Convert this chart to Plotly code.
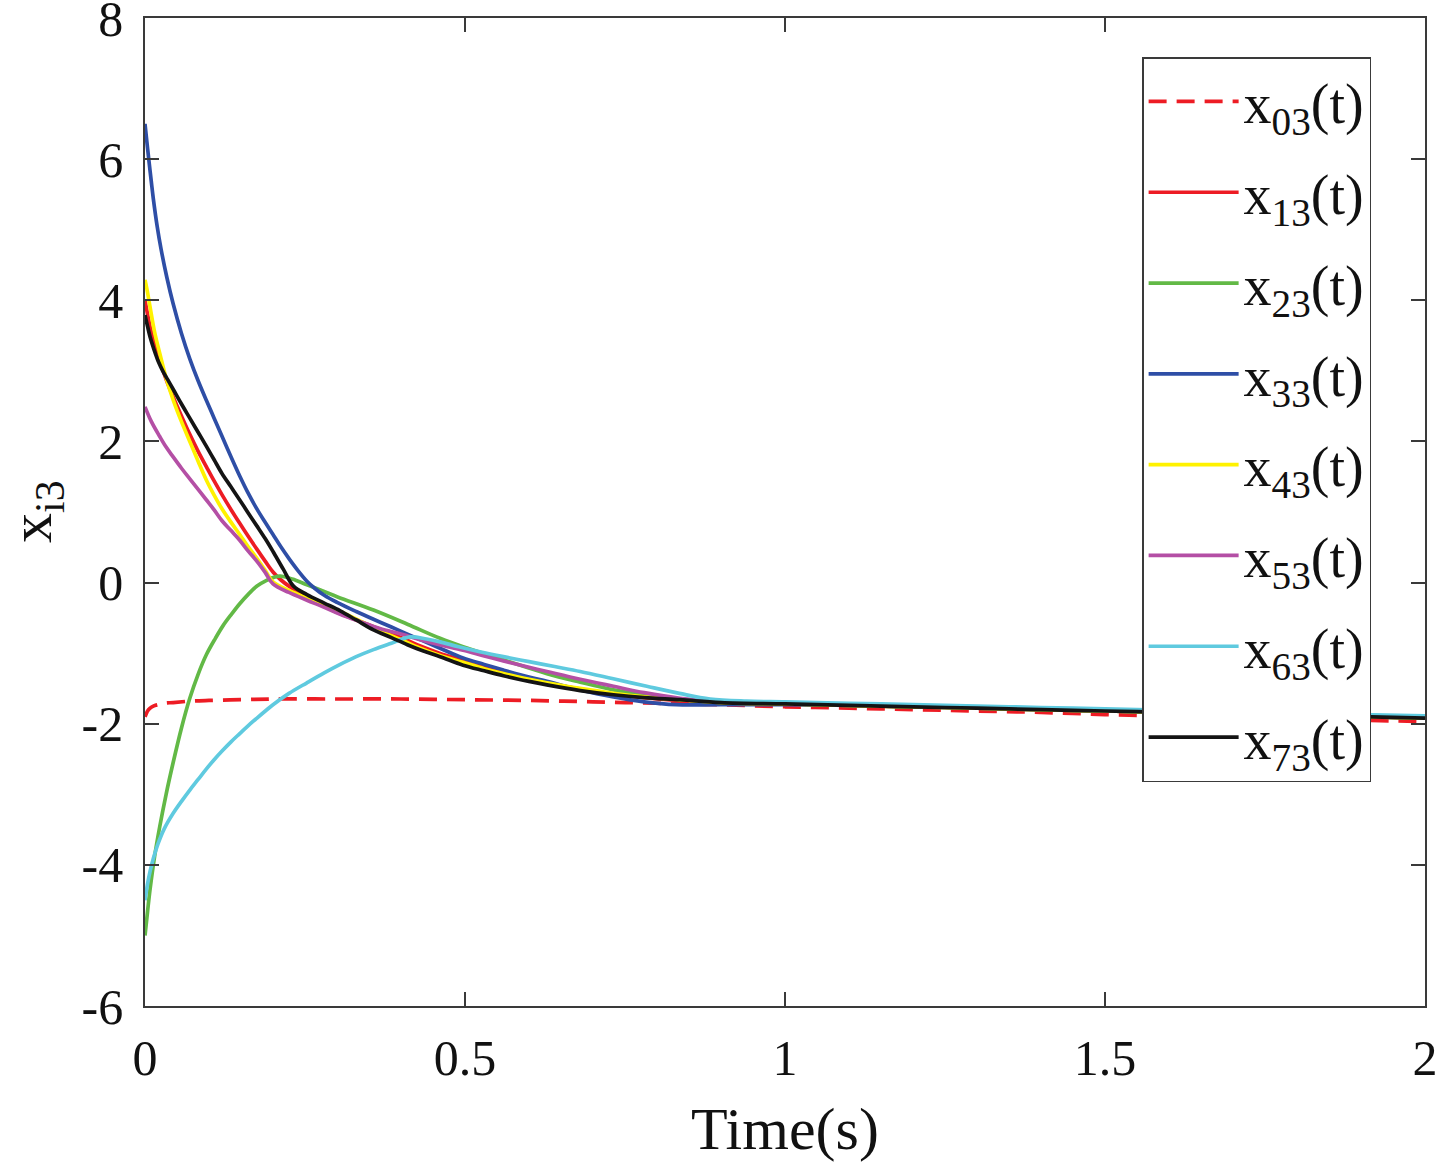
import plotly.graph_objects as go

# ---------------- data ----------------
t03 = [0, 0.002, 0.004, 0.008, 0.013, 0.02, 0.03, 0.044, 0.07, 0.1, 0.15, 0.2, 0.3, 0.4, 0.5, 0.6, 0.7, 0.8, 0.9,
       1.0, 1.1, 1.2, 1.3, 1.4, 1.5, 1.6, 1.7, 1.8, 1.9, 2.0]
v03 = [-1.90, -1.86, -1.82, -1.78, -1.75, -1.73, -1.71, -1.70, -1.68, -1.67, -1.66, -1.65, -1.65, -1.65, -1.66, -1.67, -1.69, -1.71, -1.73,
       -1.76, -1.78, -1.80, -1.82, -1.84, -1.87, -1.89, -1.91, -1.93, -1.95, -1.97]

t13 = [0, 0.004, 0.008, 0.015, 0.023, 0.033, 0.044, 0.057, 0.07, 0.083, 0.096, 0.108, 0.12, 0.134, 0.148, 0.161, 0.175, 0.188,
       0.2, 0.212, 0.225, 0.253, 0.28, 0.3, 0.33, 0.367, 0.4, 0.43, 0.46, 0.497, 0.53, 0.56, 0.6, 0.628, 0.68, 0.732, 0.78, 0.836, 0.9,
       1.0, 1.1, 1.2, 1.3, 1.4, 1.5, 1.6, 1.7, 1.8, 1.9, 2.0]
v13 = [4.0, 3.80, 3.62, 3.38, 3.15, 2.88, 2.63, 2.36, 2.10, 1.86, 1.64, 1.44, 1.25, 1.04, 0.84, 0.66, 0.47, 0.30,
       0.15, 0.04, -0.05, -0.20, -0.33, -0.42, -0.53, -0.66, -0.78, -0.90, -1.00, -1.10, -1.19, -1.27, -1.36, -1.42, -1.51, -1.58, -1.63, -1.67, -1.70,
       -1.72, -1.74, -1.76, -1.78, -1.80, -1.82, -1.84, -1.86, -1.88, -1.90, -1.92]

t23 = [0, 0.004, 0.008, 0.015, 0.023, 0.033, 0.044, 0.057, 0.07, 0.083, 0.096, 0.11, 0.122, 0.135, 0.148, 0.162, 0.175, 0.19,
       0.2, 0.211, 0.23, 0.253, 0.3, 0.357, 0.41, 0.461, 0.497, 0.555, 0.628, 0.68, 0.732, 0.784, 0.836, 0.9,
       1.0, 1.1, 1.2, 1.3, 1.4, 1.5, 1.6, 1.7, 1.8, 1.9, 2.0]
v23 = [-5.0, -4.66, -4.34, -3.88, -3.46, -3.00, -2.55, -2.06, -1.64, -1.30, -1.02, -0.79, -0.61, -0.45, -0.30, -0.16, -0.05, 0.03,
       0.07, 0.09, 0.05, -0.03, -0.20, -0.39, -0.59, -0.79, -0.91, -1.08, -1.29, -1.41, -1.52, -1.60, -1.66, -1.70,
       -1.72, -1.74, -1.76, -1.78, -1.80, -1.82, -1.84, -1.86, -1.88, -1.90, -1.92]

t33 = [0, 0.003, 0.006, 0.01, 0.013, 0.019, 0.025, 0.034, 0.044, 0.057, 0.07, 0.083, 0.096, 0.108, 0.12, 0.134, 0.148, 0.161,
       0.175, 0.188, 0.2, 0.212, 0.225, 0.239, 0.253, 0.265, 0.28, 0.3, 0.33, 0.357, 0.385, 0.41, 0.461, 0.497, 0.53, 0.56, 0.6, 0.628,
       0.68, 0.732, 0.78, 0.83, 0.9, 1.0, 1.1, 1.2, 1.3, 1.4, 1.5, 1.6, 1.7, 1.8, 1.9, 2.0]
v33 = [6.5, 6.24, 5.99, 5.67, 5.44, 5.05, 4.73, 4.33, 3.95, 3.53, 3.17, 2.86, 2.58, 2.33, 2.08, 1.79, 1.51, 1.27,
       1.04, 0.85, 0.68, 0.51, 0.34, 0.17, 0.02, -0.08, -0.18, -0.28, -0.41, -0.52, -0.63, -0.73, -0.93, -1.07, -1.16, -1.24, -1.34, -1.40,
       -1.52, -1.62, -1.69, -1.73, -1.73, -1.73, -1.74, -1.76, -1.78, -1.80, -1.82, -1.84, -1.86, -1.88, -1.90, -1.92]

t43 = [0, 0.003, 0.008, 0.015, 0.023, 0.033, 0.044, 0.057, 0.07, 0.083, 0.096, 0.108, 0.12, 0.134, 0.148, 0.161, 0.175, 0.188,
       0.2, 0.225, 0.253, 0.28, 0.305, 0.335, 0.367, 0.4, 0.43, 0.46, 0.497, 0.53, 0.56, 0.6, 0.628, 0.68, 0.732, 0.78, 0.836, 0.9,
       1.0, 1.1, 1.2, 1.3, 1.4, 1.5, 1.6, 1.7, 1.8, 1.9, 2.0]
v43 = [4.29, 4.16, 3.9, 3.55, 3.25, 2.90, 2.59, 2.28, 2.0, 1.72, 1.45, 1.24, 1.05, 0.86, 0.68, 0.51, 0.34, 0.17,
       0.01, -0.11, -0.22, -0.32, -0.41, -0.54, -0.68, -0.81, -0.93, -1.03, -1.13, -1.22, -1.29, -1.37, -1.42, -1.50, -1.57, -1.62, -1.66, -1.70,
       -1.72, -1.74, -1.76, -1.78, -1.80, -1.82, -1.84, -1.86, -1.88, -1.90, -1.92]

t53 = [0, 0.01, 0.023, 0.033, 0.044, 0.057, 0.07, 0.083, 0.096, 0.108, 0.12, 0.134, 0.148, 0.161, 0.175, 0.188, 0.2, 0.225,
       0.253, 0.28, 0.305, 0.335, 0.367, 0.4, 0.43, 0.46, 0.497, 0.53, 0.56, 0.6, 0.628, 0.68, 0.732, 0.78, 0.836, 0.9,
       1.0, 1.1, 1.2, 1.3, 1.4, 1.5, 1.6, 1.7, 1.8, 1.9, 2.0]
v53 = [2.49, 2.28, 2.07, 1.92, 1.78, 1.62, 1.47, 1.32, 1.17, 1.03, 0.88, 0.74, 0.60, 0.45, 0.30, 0.14, -0.02, -0.14,
       -0.25, -0.35, -0.45, -0.55, -0.65, -0.73, -0.81, -0.88, -0.96, -1.04, -1.11, -1.20, -1.26, -1.37, -1.47, -1.56, -1.64, -1.69,
       -1.71, -1.73, -1.75, -1.77, -1.79, -1.81, -1.83, -1.85, -1.87, -1.89, -1.91]

t63 = [0, 0.002, 0.004, 0.008, 0.013, 0.02, 0.03, 0.044, 0.057, 0.07, 0.083, 0.096, 0.108, 0.12, 0.134, 0.148, 0.161, 0.175,
       0.188, 0.2, 0.225, 0.253, 0.28, 0.305, 0.33, 0.357, 0.385, 0.414, 0.44, 0.461, 0.49, 0.523, 0.56, 0.6, 0.64, 0.68, 0.73,
       0.784, 0.835, 0.883, 0.94, 1.0, 1.1, 1.2, 1.3, 1.4, 1.5, 1.6, 1.7, 1.8, 1.9, 2.0]
v63 = [-4.5, -4.38, -4.27, -4.09, -3.91, -3.71, -3.49, -3.27, -3.10, -2.94, -2.79, -2.64, -2.51, -2.39, -2.26, -2.14, -2.03, -1.92,
       -1.82, -1.73, -1.57, -1.42, -1.28, -1.16, -1.05, -0.95, -0.86, -0.77, -0.80, -0.84, -0.91, -0.98, -1.05, -1.12, -1.19, -1.26, -1.36,
       -1.47, -1.57, -1.65, -1.68, -1.69, -1.71, -1.73, -1.75, -1.77, -1.79, -1.81, -1.83, -1.85, -1.87, -1.89]

t73 = [0, 0.004, 0.008, 0.012, 0.016, 0.02, 0.025, 0.03, 0.037, 0.044, 0.057, 0.07, 0.083, 0.096, 0.108, 0.12, 0.134, 0.148,
       0.161, 0.175, 0.188, 0.2, 0.216, 0.232, 0.253, 0.28, 0.305, 0.33, 0.357, 0.385, 0.41, 0.435, 0.461, 0.497, 0.53, 0.56, 0.6,
       0.628, 0.68, 0.732, 0.78, 0.836, 0.9, 1.0, 1.1, 1.2, 1.3, 1.4, 1.5, 1.6, 1.7, 1.8, 1.9, 2.0]
v73 = [3.79, 3.63, 3.48, 3.36, 3.25, 3.15, 3.05, 2.96, 2.85, 2.74, 2.53, 2.33, 2.13, 1.93, 1.74, 1.55, 1.36, 1.17,
       0.99, 0.80, 0.62, 0.44, 0.19, -0.05, -0.17, -0.29, -0.40, -0.53, -0.67, -0.78, -0.88, -0.97, -1.05, -1.17, -1.25, -1.32, -1.40,
       -1.45, -1.53, -1.59, -1.63, -1.66, -1.70, -1.72, -1.74, -1.76, -1.78, -1.80, -1.82, -1.84, -1.86, -1.88, -1.90, -1.92]

names = ["x<sub>03</sub>(t)", "x<sub>13</sub>(t)", "x<sub>23</sub>(t)", "x<sub>33</sub>(t)",
         "x<sub>43</sub>(t)", "x<sub>53</sub>(t)", "x<sub>63</sub>(t)", "x<sub>73</sub>(t)"]
colors = ["#ED1C24", "#ED1C24", "#62B946", "#2E4EA6", "#FFF200", "#B44FA5", "#5FCADF", "#141414"]
dashes = ["dash", "solid", "solid", "solid", "solid", "solid", "solid", "solid"]

x_tickvals = [0, 0.5, 1, 1.5, 2]
x_ticktext = ["0", "0.5", "1", "1.5", "2"]
y_tickvals = [-6, -4, -2, 0, 2, 4, 6, 8]
y_ticktext = ["-6", "-4", "-2", "0", "2", "4", "6", "8"]
y_title = "x<sub>i3</sub>"

series_t = [t03, t13, t23, t33, t43, t53, t63, t73]
series_v = [v03, v13, v23, v33, v43, v53, v63, v73]

FONT = "Liberation Serif"
AXC = "#3a3a3a"

fig = go.Figure()
for i, (tt, vv, nm, c, d) in enumerate(zip(series_t, series_v, names, colors, dashes)):
    fig.add_trace(go.Scatter(
        x=tt, y=vv, mode="lines", name=nm, legendgroup="g%d" % i,
        line=dict(color=c, width=3.7, dash=("18px,10px" if d == "dash" else "solid"),
                  shape="spline", smoothing=1.0),
    ))

fig.update_layout(
    width=1437, height=1163,
    margin=dict(l=145, r=12, t=18, b=157),
    paper_bgcolor="white", plot_bgcolor="white",
    font=dict(family=FONT, size=48, color="#111111"),
    showlegend=True,
    legend=dict(
        x=0.779, y=0.9605, xanchor="left", yanchor="top",
        bgcolor="white", bordercolor=AXC, borderwidth=1.5,
        font=dict(family=FONT, size=56, color="#111111"),
        itemwidth=90, tracegroupgap=15,
    ),
    xaxis=dict(
        range=[0, 2], tickvals=x_tickvals, ticktext=x_ticktext, automargin=False,
        showgrid=False, zeroline=False, showline=True, linecolor=AXC, linewidth=1.5,
        mirror="allticks", ticks="inside", ticklen=14, tickcolor=AXC, tickwidth=1.5,
        tickfont=dict(family=FONT, size=50), ticklabelstandoff=7, ticklabeloverflow="allow",
        title=dict(text="Time(s)", font=dict(family=FONT, size=60), standoff=22),
    ),
    yaxis=dict(
        range=[-6, 8], tickvals=y_tickvals, ticktext=y_ticktext, automargin=False,
        showgrid=False, zeroline=False, showline=True, linecolor=AXC, linewidth=1.5,
        mirror="allticks", ticks="inside", ticklen=14, tickcolor=AXC, tickwidth=1.5,
        tickfont=dict(family=FONT, size=50), ticklabelstandoff=10, ticklabeloverflow="allow",
    ),
    annotations=[dict(
        text=y_title, xref="paper", yref="paper", x=-0.086, y=0.501,
        xanchor="center", yanchor="middle", textangle=-90, showarrow=False,
        font=dict(family=FONT, size=60, color="#111111"),
    )],
)

fig.write_html("out.html", config={"displayModeBar": False},
               post_script="document.body.style.margin='0px';")
